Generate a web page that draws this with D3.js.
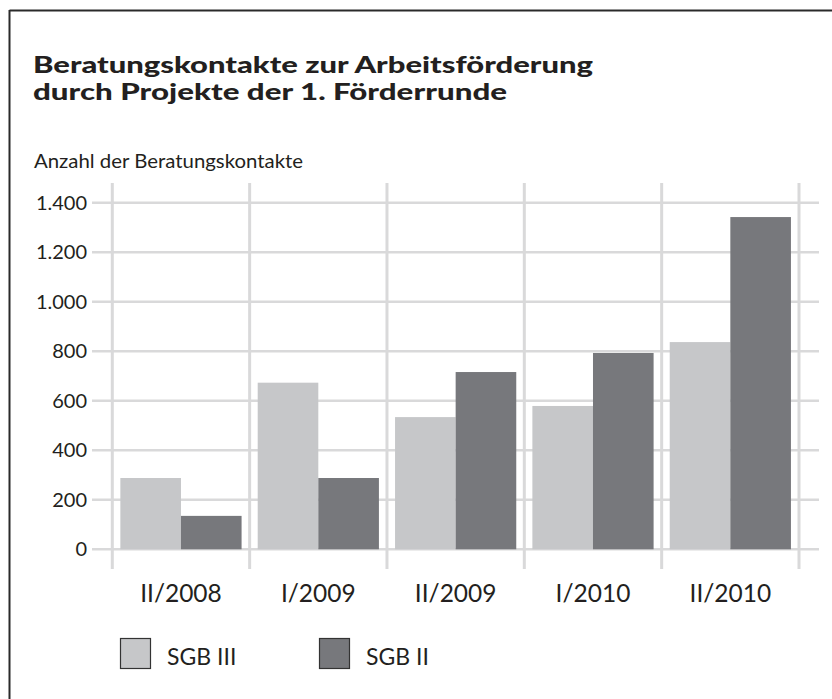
<!DOCTYPE html>
<html>
<head>
<meta charset="utf-8">
<script src="https://cdn.jsdelivr.net/npm/d3@7"></script>
<style>
  html, body { margin: 0; padding: 0; background: #fff; }
  svg { display: block; }
  text { font-family: Lato, "Liberation Sans", sans-serif; fill: #231f20; }
</style>
</head>
<body>
<svg id="chart" width="832" height="699"></svg>
<script>
const categories = ["II/2008", "I/2009", "II/2009", "I/2010", "II/2010"];
const seriesNames = ["SGB III", "SGB II"];
const sgb3 = [288, 673, 534, 579, 837];
const sgb2 = [135, 288, 716, 793, 1342];
const yTicks = [0, 200, 400, 600, 800, 1000, 1200, 1400];
const titleLines = ["Beratungskontakte zur Arbeitsförderung", "durch Projekte der 1. Förderrunde"];
const yAxisTitle = "Anzahl der Beratungskontakte";
const colors = ["#c6c7c9", "#77787c"];

const svg = d3.select("#chart");

// frame
svg.append("line").attr("x1", 9.5).attr("x2", 832).attr("y1", 10.5).attr("y2", 10.5)
  .attr("stroke", "#2a2a2a").attr("stroke-width", 2);
svg.append("line").attr("x1", 9.5).attr("x2", 9.5).attr("y1", 10).attr("y2", 699)
  .attr("stroke", "#2a2a2a").attr("stroke-width", 2);

// title
const titleWidths = [560, 474];
svg.append("g").selectAll("text").data(titleLines).join("text")
  .attr("x", 33).attr("y", (d, i) => 73 + i * 27)
  .attr("font-size", 22).attr("font-weight", 900)
  .attr("textLength", (d, i) => titleWidths[i]).attr("lengthAdjust", "spacingAndGlyphs")
  .text(d => d);

// y axis title
svg.append("text").attr("x", 34).attr("y", 168).attr("font-size", 20)
  .attr("textLength", 269).attr("lengthAdjust", "spacingAndGlyphs")
  .text(yAxisTitle);

const x = d3.scaleBand().domain(categories).range([112.3, 799]).padding(0);
const x1 = d3.scaleBand().domain(seriesNames).range([0, x.bandwidth()]).paddingInner(0).paddingOuter(0.133);
const y = d3.scaleLinear().domain([0, 1400]).range([549.3, 202.7]);

// horizontal grid
svg.append("g").selectAll("line").data(yTicks).join("line")
  .attr("x1", 92).attr("x2", 819)
  .attr("y1", d => y(d)).attr("y2", d => y(d))
  .attr("stroke", "#d9d9da").attr("stroke-width", 2.5);

// vertical grid
const vx = categories.map(c => x(c)).concat([x(categories[categories.length - 1]) + x.bandwidth()]);
svg.append("g").selectAll("line").data(vx).join("line")
  .attr("x1", d => d).attr("x2", d => d)
  .attr("y1", 183).attr("y2", 569)
  .attr("stroke", "#d9d9da").attr("stroke-width", 3);

// y tick labels
const yAxis = d3.axisLeft(y).tickValues(yTicks).tickSize(0).tickPadding(0)
  .tickFormat(d => d3.format(",")(d).replace(/,/g, "."));
const ya = svg.append("g").attr("transform", "translate(87,0)").call(yAxis);
ya.select(".domain").remove();
ya.selectAll("text").attr("font-size", 20).attr("font-family", "Lato, 'Liberation Sans', sans-serif")
  .attr("fill", "#231f20");

// bars
const data = categories.map((c, i) => ({ cat: c, vals: [sgb3[i], sgb2[i]] }));
const groups = svg.append("g").selectAll("g").data(data).join("g")
  .attr("transform", d => `translate(${x(d.cat)},0)`);
groups.selectAll("rect").data(d => d.vals.map((v, j) => ({ s: seriesNames[j], v, j }))).join("rect")
  .attr("x", d => x1(d.s)).attr("width", x1.bandwidth())
  .attr("y", d => y(d.v)).attr("height", d => y(0) - y(d.v))
  .attr("fill", d => colors[d.j]);

// x labels
const xAxis = d3.axisBottom(x).tickSize(0).tickPadding(0);
const xa = svg.append("g").attr("transform", "translate(0,579)").call(xAxis);
xa.select(".domain").remove();
xa.selectAll("text").attr("font-size", 24.5).attr("font-family", "Lato, 'Liberation Sans', sans-serif")
  .attr("fill", "#231f20").attr("dy", "0.95em");

// legend
const legX = [120, 319];
const leg = svg.append("g").selectAll("g").data(seriesNames).join("g")
  .attr("transform", (d, i) => `translate(${legX[i]},638)`);
leg.append("rect").attr("x", 0.5).attr("y", 0.5).attr("width", 30).attr("height", 30)
  .attr("fill", (d, i) => colors[i]).attr("stroke", "#333").attr("stroke-width", 1.2);
leg.append("text").attr("x", 47).attr("y", 27).attr("font-size", 23)
  .text(d => d);
</script>
</body>
</html>
